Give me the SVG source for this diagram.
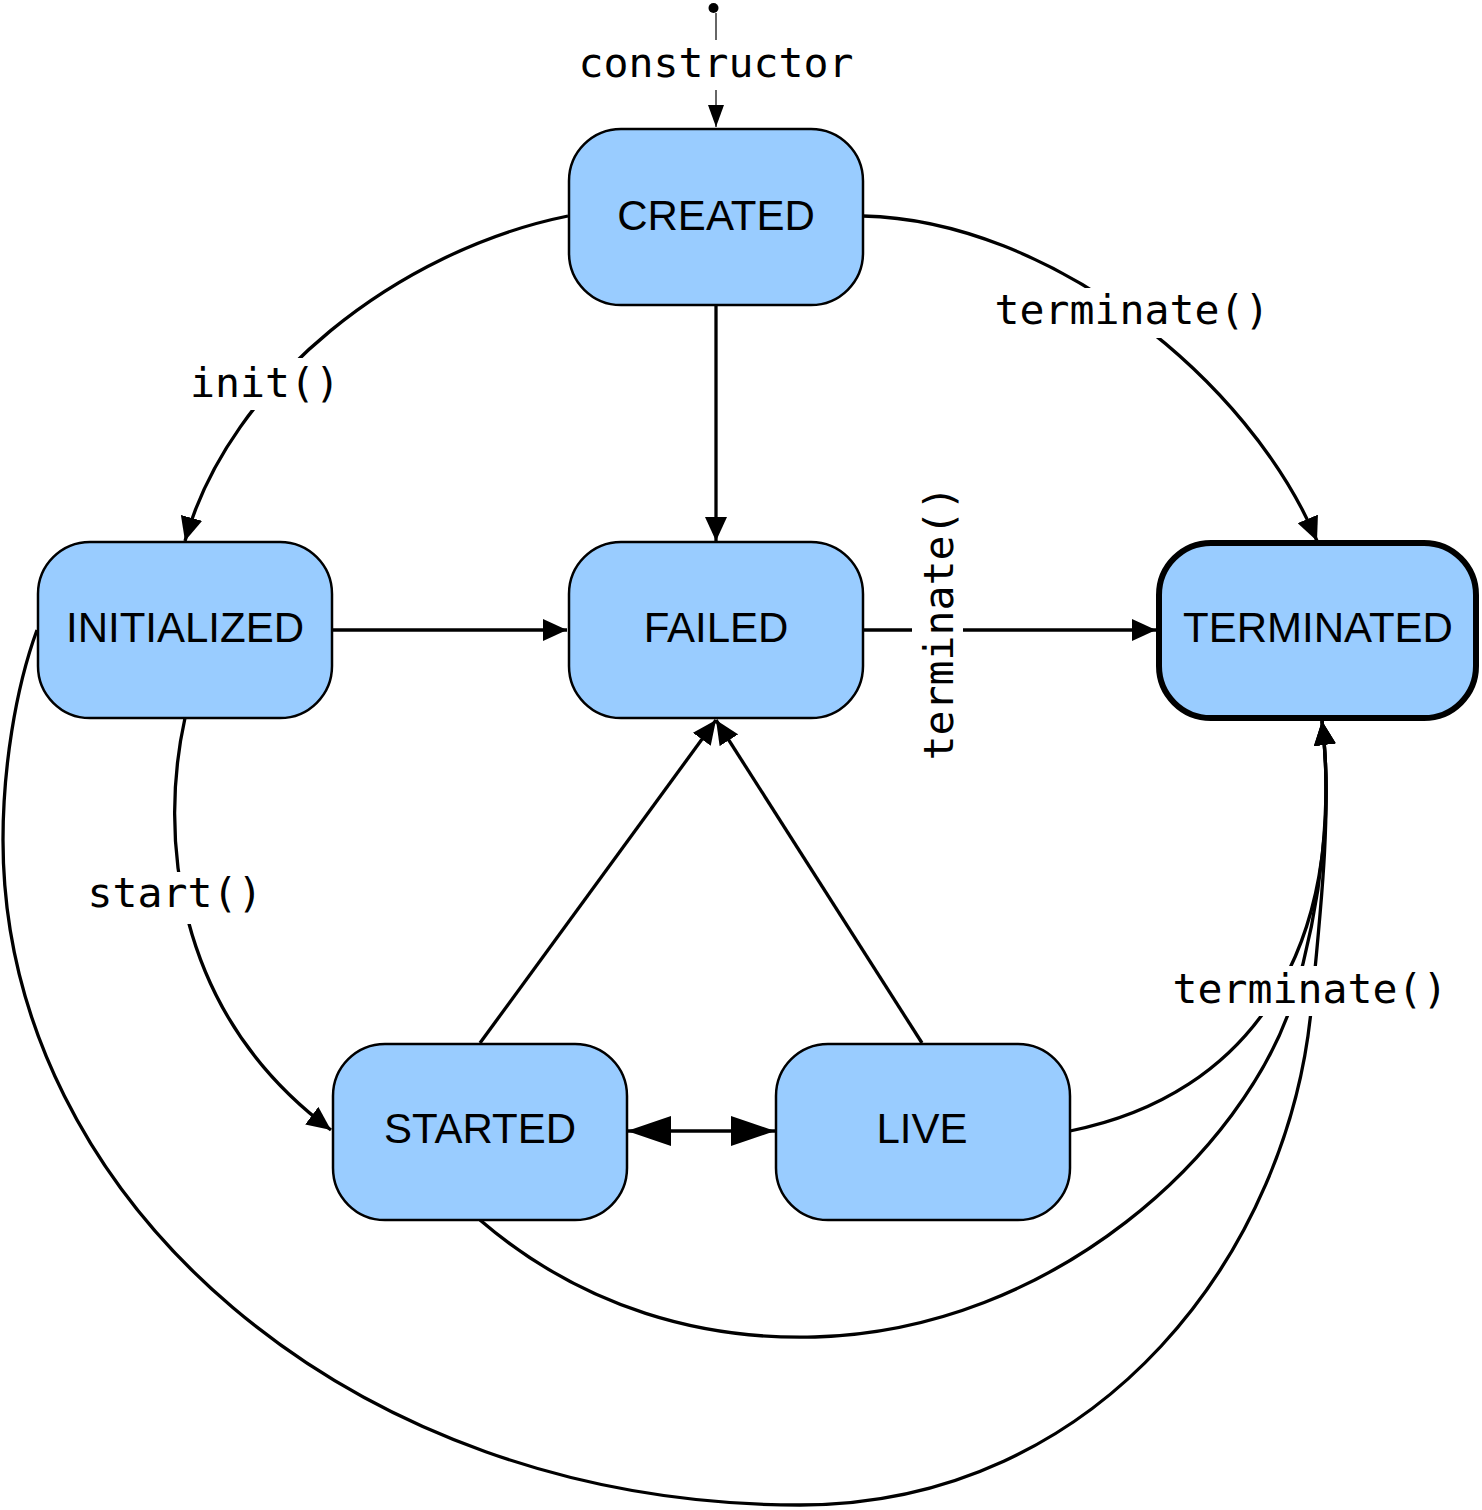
<svg xmlns="http://www.w3.org/2000/svg" width="1482" height="1510" viewBox="0 0 1482 1510">
<style>
.node{fill:#99ccff;stroke:#000;stroke-width:2.5}
.term{fill:#99ccff;stroke:#000;stroke-width:6}
.nl{font-family:"Liberation Sans",Arial,sans-serif;font-size:42px;text-anchor:middle;fill:#000}
.el{font-family:"DejaVu Sans Mono",monospace;font-size:41.5px;text-anchor:middle;fill:#000}
.edge{fill:none;stroke:#000;stroke-width:3.3}
.bg{fill:#fff}
</style>
<defs>
<marker id="ah" markerUnits="userSpaceOnUse" markerWidth="24" markerHeight="22" refX="24" refY="11" orient="auto"><path d="M0,0 L24,11 L0,22 z" fill="#000"/></marker>
<marker id="ahs" markerUnits="userSpaceOnUse" markerWidth="22" markerHeight="16" refX="22" refY="8" orient="auto"><path d="M0,0 L22,8 L0,16 z" fill="#000"/></marker>
<marker id="big" markerUnits="userSpaceOnUse" markerWidth="44" markerHeight="30" refX="44" refY="15" orient="auto"><path d="M0,0 L44,15 L0,30 z" fill="#000"/></marker>
<marker id="bigs" markerUnits="userSpaceOnUse" markerWidth="44" markerHeight="30" refX="0" refY="15" orient="auto"><path d="M44,0 L0,15 L44,30 z" fill="#000"/></marker>
</defs>
<g id="connectors">
<circle cx="713.5" cy="8" r="5" fill="#000"/>
<path d="M716,13 L716,127" fill="none" stroke="#333" stroke-width="1.5" marker-end="url(#ahs)"/>
<rect class="bg" x="576" y="40" width="280" height="50"/>
<text class="el" x="716" y="77">constructor</text>

<path class="edge" d="M716,305 L716,541" marker-end="url(#ah)"/>
<path class="edge" d="M568,216 C400,250 230,380 185,541" marker-end="url(#ah)"/>
<rect class="bg" x="190" y="358" width="152" height="52"/>
<text class="el" x="265" y="397">init()</text>

<path class="edge" d="M863,216 C1050,220 1250,380 1317,541" marker-end="url(#ah)"/>
<rect class="bg" x="994" y="288" width="278" height="50"/>
<text class="el" x="1132" y="324">terminate()</text>

<path class="edge" d="M332,630 L567,630" marker-end="url(#ah)"/>
<path class="edge" d="M863,630 L1156,630" marker-end="url(#ah)"/>
<rect class="bg" x="912" y="486" width="51" height="274"/>
<text class="el" transform="translate(953,623) rotate(-90)" x="0" y="0">terminate()</text>

<path class="edge" d="M185,718 C160,830 170,1010 331,1130" marker-end="url(#ah)"/>
<rect class="bg" x="87" y="872" width="178" height="52"/>
<text class="el" x="175" y="907">start()</text>

<path class="edge" d="M627,1131 L775,1131" marker-start="url(#bigs)" marker-end="url(#big)"/>
<path class="edge" d="M480,1043 L716,720" marker-end="url(#ah)"/>
<path class="edge" d="M922,1043 L716,720" marker-end="url(#ah)"/>

<path class="edge" d="M1070,1131 C1250,1095 1348,950 1322,721" marker-end="url(#ah)"/>
<path class="edge" d="M480,1220 C585,1310 705,1340 815,1337 C1055,1330 1245,1150 1293,1000 C1323,900 1332,800 1322,721" marker-end="url(#ah)"/>
<path class="edge" d="M37,630 C15,690 3,770 3,840 C3,1200 350,1505 800,1505 C1100,1505 1292,1250 1312,1000 C1322,900 1332,800 1322,721" marker-end="url(#ah)"/>
<rect class="bg" x="1171" y="966" width="278" height="50"/>
<text class="el" x="1310" y="1003">terminate()</text>
</g>
<g id="node-created"><rect class="node" x="569" y="129" width="294" height="176" rx="52"/><text class="nl" x="716" y="230">CREATED</text></g>
<g id="node-initialized"><rect class="node" x="38" y="542" width="294" height="176" rx="52"/><text class="nl" x="185" y="642">INITIALIZED</text></g>
<g id="node-failed"><rect class="node" x="569" y="542" width="294" height="176" rx="52"/><text class="nl" x="716" y="642">FAILED</text></g>
<g id="node-terminated"><rect class="term" x="1159" y="543" width="317" height="175" rx="52"/><text class="nl" x="1318" y="642">TERMINATED</text></g>
<g id="node-started"><rect class="node" x="333" y="1044" width="294" height="176" rx="52"/><text class="nl" x="480" y="1143">STARTED</text></g>
<g id="node-live"><rect class="node" x="776" y="1044" width="294" height="176" rx="52"/><text class="nl" x="922" y="1143">LIVE</text></g>
</svg>
